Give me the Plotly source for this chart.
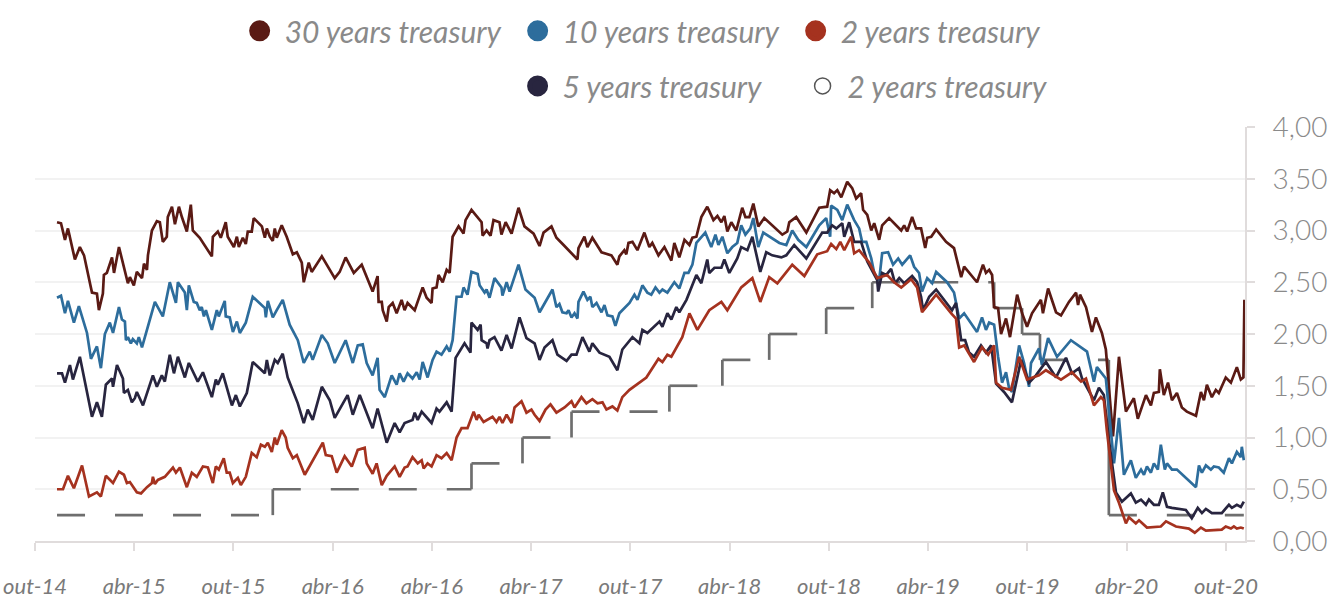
import plotly.graph_objects as go

# ---------------- data (time in decimal years) ----------------
tick_pos = [2014.75, 2015.25, 2015.75, 2016.25, 2016.75, 2017.25, 2017.75,
            2018.25, 2018.75, 2019.25, 2019.75, 2020.25, 2020.75]
tick_labels = ["out-14", "abr-15", "out-15", "abr-16", "abr-16", "abr-17", "out-17",
               "abr-18", "out-18", "abr-19", "out-19", "abr-20", "out-20"]

names = ["30 years treasury", "10 years treasury", "2 years treasury",
         "5 years treasury", "2 years treasury"]

y30 = [(2014.861,3.08),(2014.881,3.07),(2014.901,2.91),(2014.916,3.02),(2014.951,2.72),(2014.976,2.84),
       (2014.997,2.76),(2015.037,2.40),(2015.062,2.39),(2015.072,2.23),(2015.092,2.39),(2015.097,2.57),
       (2015.112,2.59),(2015.138,2.74),(2015.148,2.59),(2015.173,2.84),(2015.218,2.49),(2015.228,2.55),
       (2015.248,2.47),(2015.263,2.60),(2015.289,2.54),(2015.299,2.68),(2015.314,2.62),(2015.319,2.76),
       (2015.339,3.00),(2015.364,3.09),(2015.379,3.08),(2015.394,2.89),(2015.414,2.94),(2015.419,3.13),
       (2015.440,3.23),(2015.455,3.06),(2015.475,3.23),(2015.490,3.13),(2015.515,2.99),(2015.525,3.13),
       (2015.535,3.25),(2015.545,3.00),(2015.580,2.93),(2015.641,2.75),(2015.646,2.94),(2015.671,2.99),
       (2015.686,2.93),(2015.711,3.08),(2015.721,2.94),(2015.752,2.84),(2015.767,2.94),(2015.777,2.84),
       (2015.797,2.93),(2015.812,2.87),(2015.822,2.99),(2015.842,2.99),(2015.852,3.12),(2015.893,3.04),
       (2015.908,2.93),(2015.918,3.02),(2015.933,2.94),(2015.948,2.90),(2015.958,3.02),(2015.968,2.93),
       (2015.993,3.05),(2016.018,2.94),(2016.049,2.77),(2016.069,2.79),(2016.094,2.69),(2016.104,2.50),
       (2016.129,2.69),(2016.144,2.60),(2016.195,2.75),(2016.260,2.54),(2016.285,2.60),(2016.315,2.74),
       (2016.356,2.59),(2016.396,2.67),(2016.451,2.41),(2016.476,2.56),(2016.481,2.31),(2016.497,2.31),
       (2016.502,2.23),(2016.522,2.12),(2016.532,2.26),(2016.552,2.30),(2016.572,2.20),(2016.597,2.33),
       (2016.612,2.23),(2016.627,2.30),(2016.663,2.23),(2016.703,2.45),(2016.723,2.35),(2016.748,2.30),
       (2016.753,2.44),(2016.773,2.45),(2016.783,2.57),(2016.804,2.50),(2016.824,2.62),(2016.839,2.59),
       (2016.854,2.94),(2016.884,3.04),(2016.909,2.97),(2016.919,3.10),(2016.949,3.20),(2017.000,3.08),
       (2017.005,2.95),(2017.025,3.00),(2017.045,2.95),(2017.060,3.10),(2017.090,3.08),(2017.100,2.96),
       (2017.121,3.08),(2017.151,2.97),(2017.186,3.22),(2017.216,3.04),(2017.262,2.97),(2017.292,2.85),
       (2017.312,2.98),(2017.352,3.04),(2017.377,2.93),(2017.413,2.86),(2017.483,2.72),(2017.488,2.83),
       (2017.518,2.94),(2017.533,2.84),(2017.558,2.93),(2017.604,2.79),(2017.654,2.76),(2017.684,2.67),
       (2017.694,2.75),(2017.719,2.81),(2017.729,2.77),(2017.740,2.88),(2017.760,2.89),(2017.785,2.81),
       (2017.820,2.98),(2017.845,2.84),(2017.860,2.88),(2017.891,2.76),(2017.921,2.84),(2017.956,2.71),
       (2017.971,2.88),(2017.996,2.74),(2018.022,2.91),(2018.047,2.86),(2018.062,2.93),(2018.082,2.94),
       (2018.107,3.13),(2018.137,3.23),(2018.168,3.10),(2018.188,3.14),(2018.208,3.08),(2018.223,3.14),
       (2018.238,2.99),(2018.258,3.08),(2018.283,3.00),(2018.313,3.22),(2018.329,3.13),(2018.349,3.13),
       (2018.369,3.26),(2018.394,3.04),(2018.424,3.12),(2018.515,2.96),(2018.540,2.99),(2018.550,3.08),
       (2018.585,3.13),(2018.636,2.98),(2018.701,3.22),(2018.741,3.23),(2018.756,3.39),(2018.776,3.36),
       (2018.792,3.39),(2018.812,3.32),(2018.842,3.47),(2018.867,3.41),(2018.887,3.31),(2018.912,3.36),
       (2018.922,3.20),(2018.943,3.15),(2018.963,3.00),(2018.978,3.07),(2019.003,2.91),(2019.018,3.05),
       (2019.053,3.12),(2019.114,3.00),(2019.129,3.05),(2019.144,2.99),(2019.169,3.13),(2019.189,3.02),
       (2019.214,3.02),(2019.235,2.83),(2019.245,2.93),(2019.265,2.94),(2019.290,3.01),(2019.340,2.89),
       (2019.380,2.83),(2019.416,2.55),(2019.431,2.65),(2019.496,2.50),(2019.526,2.67),(2019.541,2.59),
       (2019.557,2.62),(2019.572,2.57),(2019.582,2.26),(2019.602,2.25),(2019.617,2.00),(2019.642,2.15),
       (2019.662,1.97),(2019.698,2.38),(2019.723,2.20),(2019.748,2.07),(2019.773,2.20),(2019.818,2.33),
       (2019.828,2.20),(2019.854,2.44),(2019.894,2.21),(2019.919,2.18),(2019.959,2.31),(2019.995,2.40),
       (2020.005,2.28),(2020.015,2.38),(2020.045,2.26),(2020.075,2.02),(2020.095,2.16),(2020.125,2.01),
       (2020.145,1.85),(2020.171,1.24),(2020.181,1.01),(2020.211,1.78),(2020.246,1.25),(2020.286,1.38),
       (2020.306,1.18),(2020.347,1.41),(2020.372,1.31),(2020.387,1.43),(2020.412,1.44),(2020.417,1.66),
       (2020.437,1.41),(2020.458,1.53),(2020.478,1.36),(2020.503,1.43),(2020.528,1.29),(2020.553,1.25),
       (2020.599,1.21),(2020.624,1.44),(2020.639,1.36),(2020.654,1.51),(2020.679,1.39),(2020.699,1.46),
       (2020.714,1.43),(2020.749,1.58),(2020.775,1.53),(2020.805,1.68),(2020.825,1.56),(2020.838,1.58),
       (2020.843,2.33)]

y10 = [(2014.861,2.35),(2014.881,2.37),(2014.901,2.20),(2014.916,2.32),(2014.946,2.11),(2014.971,2.27),
       (2015.012,2.01),(2015.032,1.76),(2015.062,1.88),(2015.082,1.67),(2015.102,2.00),(2015.127,2.11),
       (2015.143,2.01),(2015.173,2.26),(2015.188,2.14),(2015.203,2.12),(2015.208,1.94),(2015.218,1.97),
       (2015.233,1.91),(2015.243,1.95),(2015.263,1.91),(2015.273,1.97),(2015.289,1.87),(2015.354,2.31),
       (2015.394,2.17),(2015.429,2.50),(2015.460,2.30),(2015.470,2.50),(2015.505,2.40),(2015.515,2.23),
       (2015.525,2.47),(2015.550,2.31),(2015.565,2.30),(2015.580,2.23),(2015.590,2.26),(2015.601,2.17),
       (2015.611,2.23),(2015.641,2.04),(2015.666,2.23),(2015.676,2.17),(2015.706,2.32),(2015.711,2.17),
       (2015.731,2.16),(2015.747,2.02),(2015.767,2.12),(2015.782,2.01),(2015.812,2.11),(2015.847,2.36),
       (2015.908,2.25),(2015.913,2.16),(2015.923,2.32),(2015.948,2.16),(2015.968,2.23),(2015.998,2.33),
       (2016.033,2.09),(2016.074,1.94),(2016.104,1.72),(2016.134,1.83),(2016.149,1.75),(2016.195,1.99),
       (2016.225,1.91),(2016.260,1.72),(2016.315,1.94),(2016.351,1.72),(2016.376,1.89),(2016.401,1.90),
       (2016.421,1.72),(2016.451,1.60),(2016.476,1.77),(2016.486,1.46),(2016.512,1.39),(2016.547,1.60),
       (2016.572,1.51),(2016.587,1.62),(2016.607,1.54),(2016.627,1.62),(2016.652,1.57),(2016.673,1.63),
       (2016.688,1.56),(2016.703,1.73),(2016.728,1.58),(2016.753,1.75),(2016.773,1.83),(2016.798,1.80),
       (2016.824,1.88),(2016.839,1.83),(2016.854,1.94),(2016.874,2.36),(2016.899,2.36),(2016.909,2.45),
       (2016.929,2.38),(2016.949,2.60),(2016.980,2.58),(2016.990,2.47),(2017.015,2.40),(2017.025,2.43),
       (2017.040,2.35),(2017.065,2.54),(2017.100,2.45),(2017.105,2.37),(2017.126,2.50),(2017.141,2.41),
       (2017.186,2.67),(2017.221,2.43),(2017.267,2.35),(2017.292,2.21),(2017.357,2.43),(2017.377,2.26),
       (2017.392,2.29),(2017.407,2.21),(2017.428,2.20),(2017.438,2.23),(2017.453,2.16),(2017.468,2.20),
       (2017.483,2.15),(2017.488,2.31),(2017.513,2.41),(2017.533,2.33),(2017.548,2.36),(2017.558,2.26),
       (2017.579,2.30),(2017.604,2.21),(2017.619,2.28),(2017.634,2.18),(2017.659,2.17),(2017.674,2.08),
       (2017.694,2.20),(2017.745,2.30),(2017.770,2.38),(2017.785,2.33),(2017.810,2.47),(2017.835,2.40),
       (2017.855,2.38),(2017.876,2.45),(2017.896,2.40),(2017.911,2.43),(2017.936,2.40),(2017.971,2.50),
       (2017.996,2.44),(2018.022,2.59),(2018.042,2.59),(2018.062,2.67),(2018.082,2.88),(2018.127,2.98),
       (2018.157,2.84),(2018.178,2.96),(2018.193,2.86),(2018.213,2.94),(2018.238,2.78),(2018.263,2.84),
       (2018.288,2.88),(2018.308,3.05),(2018.329,2.96),(2018.354,3.02),(2018.369,3.12),(2018.394,2.84),
       (2018.419,2.98),(2018.500,2.88),(2018.535,2.86),(2018.565,3.00),(2018.595,2.91),(2018.636,2.84),
       (2018.701,3.05),(2018.736,3.12),(2018.756,2.94),(2018.761,3.24),(2018.792,3.20),(2018.817,3.10),
       (2018.842,3.25),(2018.877,3.10),(2018.902,3.02),(2018.917,2.89),(2018.938,2.89),(2018.963,2.73),
       (2018.978,2.59),(2019.003,2.52),(2019.018,2.78),(2019.048,2.79),(2019.073,2.67),(2019.099,2.73),
       (2019.119,2.67),(2019.159,2.76),(2019.179,2.65),(2019.204,2.59),(2019.219,2.41),(2019.245,2.54),
       (2019.270,2.49),(2019.290,2.60),(2019.345,2.50),(2019.380,2.40),(2019.406,2.15),(2019.431,2.20),
       (2019.496,2.02),(2019.521,2.16),(2019.541,2.04),(2019.557,2.11),(2019.582,2.09),(2019.602,1.78),
       (2019.622,1.53),(2019.642,1.63),(2019.657,1.48),(2019.672,1.44),(2019.708,1.89),(2019.733,1.72),
       (2019.758,1.49),(2019.768,1.72),(2019.808,1.86),(2019.823,1.70),(2019.854,1.96),(2019.899,1.78),
       (2019.969,1.94),(2020.050,1.83),(2020.085,1.54),(2020.100,1.68),(2020.145,1.57),(2020.160,1.28),
       (2020.186,0.75),(2020.211,1.19),(2020.236,0.64),(2020.271,0.78),(2020.296,0.61),(2020.322,0.69),
       (2020.337,0.64),(2020.352,0.72),(2020.372,0.66),(2020.387,0.75),(2020.407,0.69),(2020.422,0.93),
       (2020.442,0.69),(2020.453,0.75),(2020.478,0.69),(2020.503,0.69),(2020.599,0.52),(2020.614,0.73),
       (2020.629,0.66),(2020.649,0.73),(2020.674,0.69),(2020.689,0.72),(2020.714,0.71),(2020.739,0.66),
       (2020.765,0.80),(2020.780,0.75),(2020.805,0.86),(2020.825,0.81),(2020.830,0.91),(2020.840,0.78)]

y5 = [(2014.861,1.62),(2014.886,1.62),(2014.901,1.53),(2014.926,1.70),(2014.941,1.56),(2014.976,1.78),
      (2015.037,1.20),(2015.062,1.34),(2015.087,1.20),(2015.107,1.51),(2015.138,1.57),(2015.143,1.49),
      (2015.163,1.70),(2015.193,1.57),(2015.198,1.43),(2015.218,1.46),(2015.238,1.34),(2015.253,1.38),
      (2015.263,1.44),(2015.294,1.31),(2015.344,1.60),(2015.364,1.49),(2015.389,1.60),(2015.404,1.54),
      (2015.429,1.80),(2015.450,1.62),(2015.470,1.78),(2015.505,1.58),(2015.525,1.72),(2015.570,1.54),
      (2015.596,1.63),(2015.641,1.39),(2015.661,1.56),(2015.671,1.51),(2015.696,1.62),(2015.742,1.31),
      (2015.762,1.41),(2015.782,1.30),(2015.817,1.43),(2015.847,1.73),(2015.908,1.62),(2015.918,1.75),
      (2015.933,1.60),(2015.958,1.75),(2015.973,1.72),(2015.998,1.81),(2016.023,1.58),(2016.074,1.33),
      (2016.104,1.14),(2016.124,1.27),(2016.149,1.17),(2016.195,1.49),(2016.235,1.36),(2016.260,1.19),
      (2016.325,1.41),(2016.351,1.22),(2016.386,1.41),(2016.451,1.09),(2016.476,1.28),(2016.522,0.95),
      (2016.562,1.14),(2016.587,1.05),(2016.612,1.14),(2016.627,1.15),(2016.652,1.17),(2016.663,1.24),
      (2016.678,1.17),(2016.698,1.25),(2016.748,1.14),(2016.773,1.28),(2016.788,1.25),(2016.824,1.34),
      (2016.849,1.25),(2016.869,1.77),(2016.914,1.91),(2016.944,1.82),(2016.949,2.11),(2016.980,2.04),
      (2016.995,2.09),(2017.000,1.94),(2017.025,1.91),(2017.030,1.86),(2017.040,1.94),(2017.065,1.97),
      (2017.100,1.84),(2017.126,1.99),(2017.151,1.86),(2017.191,2.16),(2017.226,1.96),(2017.267,1.91),
      (2017.292,1.75),(2017.317,1.87),(2017.357,1.94),(2017.382,1.80),(2017.428,1.74),(2017.453,1.80),
      (2017.478,1.80),(2017.508,1.97),(2017.543,1.83),(2017.558,1.91),(2017.594,1.82),(2017.644,1.78),
      (2017.659,1.73),(2017.684,1.65),(2017.709,1.85),(2017.760,1.97),(2017.795,1.91),(2017.810,2.04),
      (2017.835,2.01),(2017.896,2.12),(2017.911,2.07),(2017.936,2.20),(2017.956,2.14),(2017.981,2.26),
      (2017.996,2.21),(2018.032,2.33),(2018.082,2.57),(2018.107,2.49),(2018.137,2.72),(2018.147,2.59),
      (2018.173,2.64),(2018.208,2.64),(2018.223,2.72),(2018.248,2.59),(2018.288,2.73),(2018.308,2.84),
      (2018.339,2.81),(2018.364,2.94),(2018.404,2.60),(2018.434,2.79),(2018.464,2.76),(2018.510,2.74),
      (2018.535,2.76),(2018.575,2.86),(2018.636,2.73),(2018.716,2.98),(2018.741,2.98),(2018.766,3.05),
      (2018.787,3.02),(2018.817,3.07),(2018.827,2.94),(2018.852,3.08),(2018.877,2.89),(2018.912,2.89),
      (2018.943,2.70),(2018.993,2.52),(2018.998,2.41),(2019.018,2.59),(2019.038,2.57),(2019.063,2.63),
      (2019.083,2.49),(2019.104,2.54),(2019.129,2.49),(2019.154,2.54),(2019.169,2.56),(2019.194,2.50),
      (2019.214,2.36),(2019.224,2.23),(2019.255,2.36),(2019.290,2.43),(2019.370,2.23),(2019.390,2.30),
      (2019.416,1.94),(2019.436,1.94),(2019.456,1.82),(2019.481,1.78),(2019.516,1.89),(2019.541,1.82),
      (2019.567,1.89),(2019.592,1.52),(2019.632,1.44),(2019.672,1.34),(2019.718,1.75),(2019.758,1.53),
      (2019.793,1.60),(2019.823,1.68),(2019.843,1.73),(2019.894,1.58),(2019.944,1.77),(2019.974,1.62),
      (2020.010,1.67),(2020.025,1.57),(2020.085,1.36),(2020.110,1.48),(2020.135,1.41),(2020.160,0.98),
      (2020.196,0.47),(2020.226,0.38),(2020.271,0.46),(2020.296,0.37),(2020.322,0.40),(2020.347,0.35),
      (2020.362,0.40),(2020.387,0.35),(2020.412,0.35),(2020.432,0.47),(2020.453,0.33),(2020.478,0.32),
      (2020.548,0.30),(2020.578,0.22),(2020.608,0.32),(2020.629,0.27),(2020.649,0.31),(2020.679,0.27),
      (2020.729,0.27),(2020.765,0.35),(2020.780,0.32),(2020.805,0.35),(2020.825,0.33),(2020.840,0.38)]

y2 = [(2014.861,0.50),(2014.891,0.50),(2014.916,0.63),(2014.946,0.51),(2014.987,0.73),(2015.022,0.43),
      (2015.062,0.47),(2015.082,0.43),(2015.107,0.63),(2015.143,0.56),(2015.173,0.67),(2015.198,0.64),
      (2015.213,0.56),(2015.228,0.57),(2015.263,0.47),(2015.284,0.46),(2015.314,0.52),(2015.339,0.56),
      (2015.344,0.62),(2015.354,0.55),(2015.369,0.59),(2015.404,0.62),(2015.445,0.71),(2015.460,0.66),
      (2015.480,0.71),(2015.515,0.52),(2015.540,0.66),(2015.565,0.62),(2015.596,0.72),(2015.621,0.71),
      (2015.646,0.56),(2015.661,0.72),(2015.676,0.69),(2015.701,0.80),(2015.716,0.66),(2015.731,0.66),
      (2015.747,0.56),(2015.772,0.61),(2015.787,0.54),(2015.812,0.62),(2015.842,0.85),(2015.867,0.81),
      (2015.888,0.93),(2015.908,0.91),(2015.923,0.95),(2015.943,0.86),(2015.958,1.00),(2015.968,0.93),
      (2015.993,1.07),(2016.013,1.00),(2016.023,0.90),(2016.049,0.80),(2016.069,0.83),(2016.109,0.64),
      (2016.200,0.95),(2016.215,0.83),(2016.245,0.82),(2016.270,0.66),(2016.310,0.82),(2016.346,0.72),
      (2016.376,0.88),(2016.411,0.90),(2016.421,0.75),(2016.451,0.65),(2016.471,0.75),(2016.497,0.54),
      (2016.522,0.63),(2016.562,0.72),(2016.587,0.62),(2016.612,0.71),(2016.627,0.72),(2016.652,0.81),
      (2016.678,0.75),(2016.698,0.78),(2016.708,0.70),(2016.728,0.75),(2016.748,0.72),(2016.773,0.83),
      (2016.798,0.80),(2016.824,0.85),(2016.849,0.78),(2016.874,1.00),(2016.899,1.09),(2016.929,1.09),
      (2016.960,1.25),(2016.975,1.17),(2016.985,1.22),(2017.010,1.15),(2017.055,1.20),(2017.075,1.15),
      (2017.090,1.20),(2017.105,1.14),(2017.126,1.22),(2017.151,1.14),(2017.166,1.29),(2017.201,1.35),
      (2017.226,1.24),(2017.251,1.27),(2017.267,1.22),(2017.292,1.16),(2017.322,1.27),(2017.347,1.32),
      (2017.377,1.24),(2017.418,1.29),(2017.453,1.35),(2017.468,1.29),(2017.503,1.39),(2017.528,1.33),
      (2017.558,1.37),(2017.584,1.33),(2017.609,1.34),(2017.629,1.27),(2017.659,1.30),(2017.684,1.26),
      (2017.709,1.39),(2017.745,1.46),(2017.830,1.58),(2017.891,1.76),(2017.911,1.73),(2017.936,1.80),
      (2017.956,1.78),(2018.011,1.97),(2018.047,2.20),(2018.087,2.04),(2018.147,2.23),(2018.208,2.31),
      (2018.238,2.23),(2018.308,2.45),(2018.364,2.54),(2018.404,2.31),(2018.449,2.55),(2018.490,2.49),
      (2018.565,2.67),(2018.626,2.56),(2018.691,2.77),(2018.741,2.80),(2018.761,2.87),(2018.787,2.82),
      (2018.807,2.89),(2018.827,2.81),(2018.862,2.94),(2018.877,2.78),(2018.902,2.81),(2018.953,2.69),
      (2018.993,2.54),(2019.043,2.57),(2019.078,2.50),(2019.114,2.45),(2019.164,2.53),(2019.194,2.45),
      (2019.219,2.21),(2019.240,2.26),(2019.290,2.38),(2019.366,2.20),(2019.390,2.15),(2019.406,1.87),
      (2019.431,1.89),(2019.481,1.73),(2019.521,1.87),(2019.552,1.80),(2019.582,1.89),(2019.592,1.53),
      (2019.622,1.48),(2019.667,1.46),(2019.708,1.78),(2019.748,1.56),(2019.808,1.60),(2019.843,1.65),
      (2019.919,1.56),(2019.974,1.63),(2020.020,1.54),(2020.045,1.57),(2020.085,1.31),(2020.120,1.39),
      (2020.135,1.36),(2020.150,1.07),(2020.186,0.49),(2020.211,0.37),(2020.246,0.17),(2020.261,0.23),
      (2020.296,0.17),(2020.312,0.20),(2020.352,0.13),(2020.422,0.14),(2020.448,0.19),(2020.498,0.14),
      (2020.563,0.12),(2020.593,0.08),(2020.624,0.13),(2020.649,0.10),(2020.729,0.11),(2020.749,0.14),
      (2020.775,0.12),(2020.790,0.14),(2020.805,0.12),(2020.825,0.13),(2020.840,0.12)]

# policy-rate steps: (date of change, new level)
fed = [(2014.861,0.25),(2015.948,0.50),(2016.949,0.75),(2017.206,1.00),(2017.453,1.25),
       (2017.946,1.50),(2018.213,1.75),(2018.449,2.00),(2018.736,2.25),(2018.968,2.50),
       (2019.582,2.25),(2019.723,2.00),(2019.813,1.75),(2020.160,0.25),(2020.840,0.25)]

# ---------------- styles ----------------
c30, c10, c2, c5, cfed = "#5a1a14", "#2d6d9c", "#a5321f", "#28253f", "#6e6e6e"
LW = 2.7

fig = go.Figure()

# step line: dashed horizontal pieces + solid risers
hx, hy, vx, vy = [], [], [], []
for i in range(len(fed) - 1):
    t0, r0 = fed[i]
    t1, r1 = fed[i + 1]
    hx += [t0, t1, None]
    hy += [r0, r0, None]
    if r1 != r0:
        vx += [t1, t1, None]
        vy += [r0, r1, None]
fig.add_trace(go.Scatter(x=hx, y=hy, mode="lines", showlegend=False, hoverinfo="skip",
                         line=dict(color=cfed, width=LW, dash="28px,30px")))
fig.add_trace(go.Scatter(x=vx, y=vy, mode="lines", showlegend=False, hoverinfo="skip",
                         line=dict(color=cfed, width=LW)))

for series, col, nm in [(y30, c30, names[0]), (y10, c10, names[1]),
                        (y5, c5, names[3]), (y2, c2, names[2])]:
    fig.add_trace(go.Scatter(x=[p[0] for p in series], y=[p[1] for p in series],
                             mode="lines", name=nm, showlegend=False,
                             line=dict(color=col, width=LW)))

# legend entries (circles)
leg_items = [(names[0], c30, "legend", "circle"), (names[1], c10, "legend", "circle"),
             (names[2], c2, "legend", "circle"), (names[3], c5, "legend2", "circle"),
             (names[4], "#555555", "legend2", "circle-open")]
for nm, col, lg, sym in leg_items:
    fig.add_trace(go.Scatter(x=[None], y=[None], mode="markers", name=nm, legend=lg,
                             marker=dict(symbol=sym, size=16, color=col,
                                         line=dict(color=col, width=5 if sym == "circle" else 1.5))))

legfont = dict(family="Lato, 'Open Sans', sans-serif", size=30, style="italic",
               color="#8a8a8a")

fig.update_layout(
    width=1334, height=603,
    margin=dict(l=35, r=89, t=127, b=62, autoexpand=False),
    paper_bgcolor="white", plot_bgcolor="white",
    separators=",.",
    font=dict(family="Lato, 'Open Sans', sans-serif", color="#888888"),
    xaxis=dict(range=[2014.75, 2020.846], tickmode="array", tickvals=tick_pos, ticktext=tick_labels,
               showgrid=False, zeroline=False, showline=True, linecolor="#e0dcdc", linewidth=2,
               ticks="outside", ticklen=8, tickwidth=2, tickcolor="#e0dcdc",
               tickfont=dict(family="Lato, 'Open Sans', sans-serif", size=22, style="italic",
                             color="#7a7a7a"),
               ticklabelstandoff=17),
    yaxis=dict(side="right", range=[0, 4], tick0=0, dtick=0.5, tickformat=".2f",
               showgrid=True, gridcolor="#f2f2f2", gridwidth=2, zeroline=False,
               showline=True, linecolor="#e0dcdc", linewidth=2,
               ticks="outside", ticklen=8, tickwidth=2, tickcolor="#e0dcdc",
               tickfont=dict(family="Lato, 'Open Sans', sans-serif", size=28, weight=300,
                             color="#8a8a8a"),
               ticklabelstandoff=12),
    legend=dict(orientation="h", x=0.165, xanchor="left", y=1.295, yanchor="top",
                font=legfont, bgcolor="rgba(0,0,0,0)", entrywidth=223, itemwidth=40),
    legend2=dict(orientation="h", x=0.3947, xanchor="left", y=1.162, yanchor="top",
                 font=legfont, bgcolor="rgba(0,0,0,0)", entrywidth=230, itemwidth=40),
)

fig.write_html("out.html", config={"displayModeBar": False},
               post_script="document.body.style.margin='0';")
